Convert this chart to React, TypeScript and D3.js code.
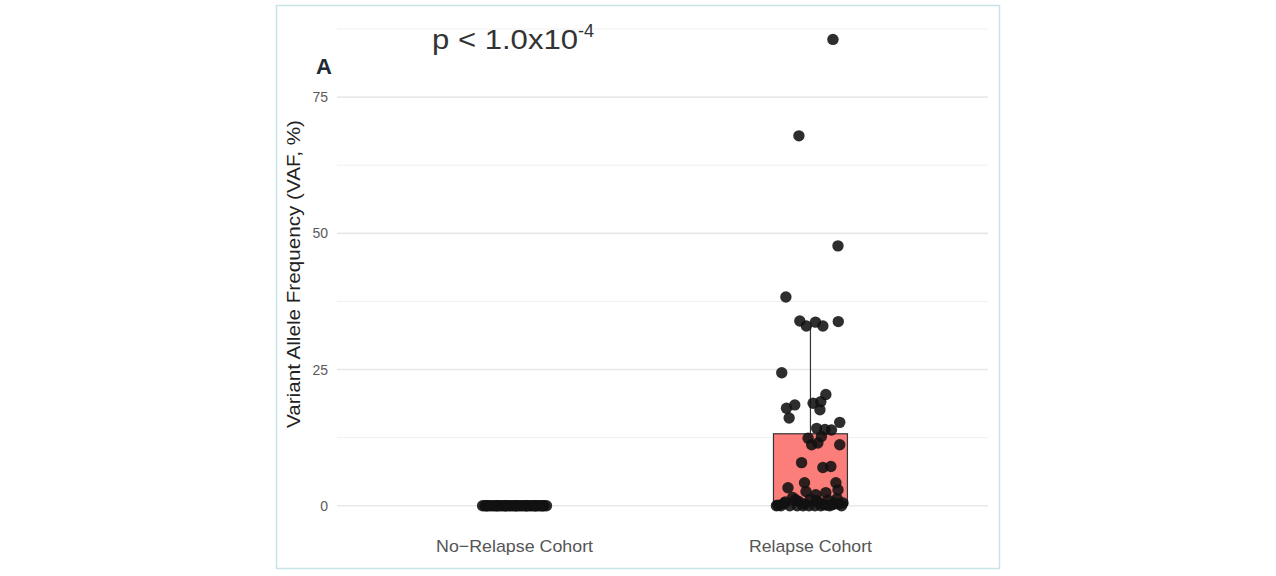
import React from "react";
import * as d3 from "d3";

const categories = ["No−Relapse Cohort", "Relapse Cohort"];
const yTicks = [0, 25, 50, 75];
const yMinor = [12.5, 37.5, 62.5, 87.5];

// No-relapse: all VAF = 0, horizontal jitter offsets (category units)
const noRelapseJitter = [
  -0.108, -0.1, -0.092, -0.085, -0.077, -0.07, -0.063, -0.055, -0.048, -0.041,
  -0.034, -0.027, -0.02, -0.013, -0.006, 0.001, 0.008, 0.015, 0.022, 0.029,
  0.036, 0.043, 0.05, 0.057, 0.064, 0.071, 0.078, 0.085, 0.092, 0.1, 0.108,
  -0.095, -0.06, -0.03, 0.005, 0.04, 0.07, 0.095,
];
const noRelapseValues = noRelapseJitter.map(() => 0);

// Relapse cohort: VAF values and jitter offsets
const relapseValues = [
  85.6, 67.9, 47.7, 38.3, 33.9, 33.0, 33.7, 33.0, 33.8, 24.4,
  17.9, 18.5, 16.1, 18.8, 19.1, 20.4, 17.6, 14.2, 14.0, 13.9, 15.3,
  12.4, 11.2, 12.7, 11.5, 11.2, 7.9, 7.0, 7.2, 3.3, 4.2, 4.2, 2.6, 2.9, 2.4, 2.0,
  1.5, 1.2, 1.0, 0.8, 0.6, 0.5, 0.4, 0.3, 0.2, 0.1, 0.0, 0.0, 0.0, 0.0,
  0.0, 0.0, 0.0, 0.1, 0.2, 0.3, 0.5, 0.7, 0.9, 1.1, 1.3, 0.0, 0.0, 0.0,
];
const relapseJitter = [
  0.076, -0.039, 0.093, -0.083, -0.036, -0.014, 0.017, 0.042, 0.094, -0.097,
  -0.081, -0.053, -0.072, 0.009, 0.035, 0.052, 0.032, 0.021, 0.049, 0.071, 0.099,
  -0.008, 0.004, 0.037, 0.025, 0.099, -0.03, 0.042, 0.069, -0.076, -0.02, 0.086, -0.015, 0.093, 0.052, 0.018,
  -0.06, 0.0, 0.06, -0.04, 0.03, 0.08, -0.09, -0.02, 0.045, -0.11, -0.1, -0.07, -0.045, -0.025,
  -0.005, 0.015, 0.035, 0.055, 0.075, 0.095, 0.11, -0.085, 0.02, -0.05, 0.09, 0.065, 0.105, -0.115,
];

// Boxplot stats for relapse cohort [min, q1, median, q3, upper whisker]
const relapseBox = [0, 0.1, 0.7, 13.2, 33.0];
const boxWidth = 0.25;

export default function App() {
  const W = 1276;
  const H = 576;
  const panel = { left: 337, right: 988, top: 16, bottom: 529 };

  const x = d3
    .scaleLinear()
    .domain([0.4, 2.6])
    .range([panel.left, panel.right]);
  const y = d3
    .scaleLinear()
    .domain([-4.28, 89.9])
    .range([panel.bottom, panel.top]);

  const [bMin, q1, med, q3, bMax] = relapseBox;
  const cx2 = x(2);
  const bx0 = x(2 - boxWidth / 2);
  const bx1 = x(2 + boxWidth / 2);
  const labelWidths = [157, 123];

  return (
    <svg
      width={W}
      height={H}
      style={{ position: "absolute", left: 0, top: 0 }}
      fontFamily="'Liberation Sans', Arial, Helvetica, sans-serif"
    >
      <rect x={0} y={0} width={W} height={H} fill="#ffffff" />
      <rect
        x={276.5}
        y={5.5}
        width={723}
        height={563}
        fill="none"
        stroke="#c8e4e8"
        strokeWidth={1.5}
      />
      {/* grid */}
      {yMinor.map((v) => (
        <line
          key={"mn" + v}
          x1={panel.left}
          x2={panel.right}
          y1={y(v)}
          y2={y(v)}
          stroke="#f0f0f0"
          strokeWidth={1}
        />
      ))}
      {yTicks.map((v) => (
        <line
          key={"mj" + v}
          x1={panel.left}
          x2={panel.right}
          y1={y(v)}
          y2={y(v)}
          stroke="#e8e8e8"
          strokeWidth={1.6}
        />
      ))}
      {/* y tick labels */}
      {yTicks.map((v) => (
        <text
          key={"yt" + v}
          x={328}
          y={y(v)}
          dy="0.36em"
          textAnchor="end"
          fontSize={14}
          fill="#5a5a5a"
        >
          {v}
        </text>
      ))}
      {/* y title */}
      <text
        transform={`translate(300, ${274}) rotate(-90)`}
        textAnchor="middle"
        fontSize={19}
        textLength={308}
        lengthAdjust="spacingAndGlyphs"
        fill="#222"
      >
        Variant Allele Frequency (VAF, %)
      </text>
      {/* x labels */}
      {categories.map((c, i) => (
        <text
          key={c}
          x={x(i + 1)}
          y={552}
          textAnchor="middle"
          fontSize={17}
          textLength={labelWidths[i]}
          lengthAdjust="spacingAndGlyphs"
          fill="#555"
        >
          {c}
        </text>
      ))}
      {/* boxplot */}
      <line x1={cx2} x2={cx2} y1={y(q3)} y2={y(bMax)} stroke="#333" strokeWidth={1.2} />
      <line x1={cx2} x2={cx2} y1={y(q1)} y2={y(bMin)} stroke="#333" strokeWidth={1.2} />
      <rect
        x={bx0}
        y={y(q3)}
        width={bx1 - bx0}
        height={y(q1) - y(q3)}
        fill="#fb7e7b"
        stroke="#333"
        strokeWidth={1.2}
      />
      <line x1={bx0} x2={bx1} y1={y(med)} y2={y(med)} stroke="#333" strokeWidth={2} />
      {/* points */}
      {noRelapseValues.map((v, i) => (
        <circle
          key={"n" + i}
          cx={x(1 + noRelapseJitter[i])}
          cy={y(v)}
          r={5.7}
          fill="#111"
          fillOpacity={0.88}
        />
      ))}
      {relapseValues.map((v, i) => (
        <circle
          key={"r" + i}
          cx={x(2 + relapseJitter[i])}
          cy={y(v)}
          r={5.7}
          fill="#111"
          fillOpacity={0.88}
        />
      ))}
      {/* annotations */}
      <text x={316} y={74} fontSize={22} fontWeight="bold" fill="#1e2a33">
        A
      </text>
      <text x={432} y={49} fontSize={28} fill="#333">
        <tspan textLength={146} lengthAdjust="spacingAndGlyphs">p &lt; 1.0x10</tspan>
        <tspan fontSize={18} dy={-12}>
          -4
        </tspan>
      </text>
    </svg>
  );
}
